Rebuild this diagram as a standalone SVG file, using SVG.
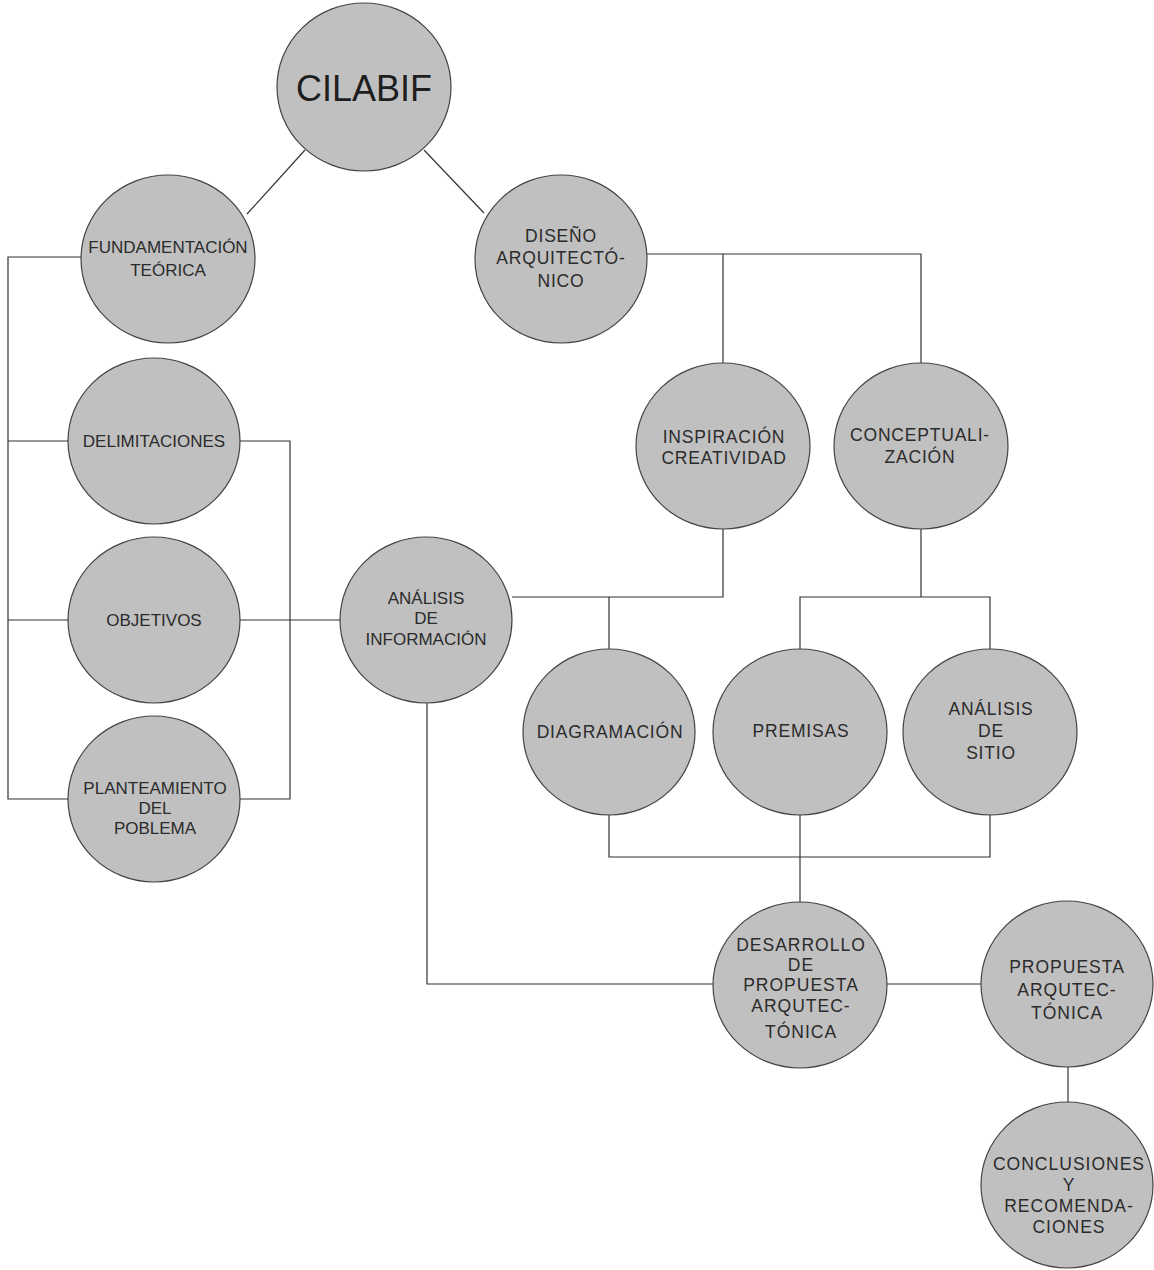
<svg xmlns="http://www.w3.org/2000/svg" width="1154" height="1270" viewBox="0 0 1154 1270">
<style>
.n ellipse{fill:#c0c0c0;stroke:#444;stroke-width:1.2}
.n text{font-family:"Liberation Sans",Arial,sans-serif;fill:#2b2b2b;text-anchor:middle}
.L text{font-size:17px}
.R text{font-size:17.5px;letter-spacing:0.8px}
.B text{font-size:17.5px;letter-spacing:1px}
.c{stroke:#333;stroke-width:1.2;fill:none}
</style>
<rect width="1154" height="1270" fill="#fff"/>
<g id="connectors">
<line class="c" x1="305" y1="150" x2="247" y2="214"/>
<line class="c" x1="424" y1="150" x2="484" y2="213"/>
<polyline class="c" points="82,257 8,257 8,799 68,799"/>
<line class="c" x1="8" y1="441" x2="68" y2="441"/>
<line class="c" x1="8" y1="620" x2="68" y2="620"/>
<polyline class="c" points="240,441 290,441 290,799 240,799"/>
<line class="c" x1="240" y1="620" x2="340" y2="620"/>
<polyline class="c" points="647,254 921,254 921,363"/>
<line class="c" x1="723" y1="254" x2="723" y2="363"/>
<polyline class="c" points="723,529 723,597 512,597"/>
<line class="c" x1="609" y1="597" x2="609" y2="649"/>
<line class="c" x1="921" y1="529" x2="921" y2="597"/>
<polyline class="c" points="800,649 800,597 990,597 990,649"/>
<polyline class="c" points="609,815 609,857 990,857 990,815"/>
<line class="c" x1="800" y1="815" x2="800" y2="902"/>
<polyline class="c" points="427,703 427,984 713,984"/>
<line class="c" x1="886" y1="984" x2="981" y2="984"/>
<line class="c" x1="1068" y1="1067" x2="1068" y2="1103"/>
</g>
<g id="cilabif" class="n"><ellipse cx="364" cy="87" rx="87" ry="84"/><text x="364" y="101" style="font-size:36px;fill:#1e1e1e">CILABIF</text></g>
<g id="fundamentacion" class="n L"><ellipse cx="168" cy="259" rx="87" ry="84"/><text x="168" y="253">FUNDAMENTACIÓN</text><text x="168" y="276">TEÓRICA</text></g>
<g id="diseno" class="n R"><ellipse cx="561" cy="259" rx="86" ry="84"/><text x="561" y="242">DISEÑO</text><text x="561" y="264">ARQUITECTÓ-</text><text x="561" y="287">NICO</text></g>
<g id="delimitaciones" class="n L"><ellipse cx="154" cy="441" rx="86" ry="83"/><text x="154" y="447">DELIMITACIONES</text></g>
<g id="objetivos" class="n L"><ellipse cx="154" cy="620" rx="86" ry="83"/><text x="154" y="626">OBJETIVOS</text></g>
<g id="planteamiento" class="n L"><ellipse cx="154" cy="799" rx="86" ry="83"/><text x="155" y="794">PLANTEAMIENTO</text><text x="155" y="814">DEL</text><text x="155" y="834">POBLEMA</text></g>
<g id="analisis-informacion" class="n L"><ellipse cx="426" cy="620" rx="86" ry="83"/><text x="426" y="604">ANÁLISIS</text><text x="426" y="624">DE</text><text x="426" y="645">INFORMACIÓN</text></g>
<g id="inspiracion" class="n R"><ellipse cx="723" cy="446" rx="87" ry="83"/><text x="724" y="443">INSPIRACIÓN</text><text x="724" y="464">CREATIVIDAD</text></g>
<g id="conceptualizacion" class="n R"><ellipse cx="921" cy="446" rx="87" ry="83"/><text x="920" y="441">CONCEPTUALI-</text><text x="920" y="463">ZACIÓN</text></g>
<g id="diagramacion" class="n R"><ellipse cx="609" cy="732" rx="86" ry="83"/><text x="610" y="738">DIAGRAMACIÓN</text></g>
<g id="premisas" class="n R"><ellipse cx="800" cy="732" rx="87" ry="83"/><text x="801" y="737">PREMISAS</text></g>
<g id="analisis-sitio" class="n R"><ellipse cx="990" cy="732" rx="87" ry="83"/><text x="991" y="715">ANÁLISIS</text><text x="991" y="737">DE</text><text x="991" y="759">SITIO</text></g>
<g id="desarrollo" class="n B"><ellipse cx="800" cy="985" rx="87" ry="83"/><text x="801" y="951">DESARROLLO</text><text x="801" y="971">DE</text><text x="801" y="991">PROPUESTA</text><text x="801" y="1012">ARQUTEC-</text><text x="801" y="1038">TÓNICA</text></g>
<g id="propuesta" class="n B"><ellipse cx="1067" cy="984" rx="86" ry="83"/><text x="1067" y="973">PROPUESTA</text><text x="1067" y="996">ARQUTEC-</text><text x="1067" y="1019">TÓNICA</text></g>
<g id="conclusiones" class="n B"><ellipse cx="1067" cy="1185" rx="86" ry="83"/><text x="1069" y="1170">CONCLUSIONES</text><text x="1069" y="1191">Y</text><text x="1069" y="1212">RECOMENDA-</text><text x="1069" y="1233">CIONES</text></g>
</svg>
